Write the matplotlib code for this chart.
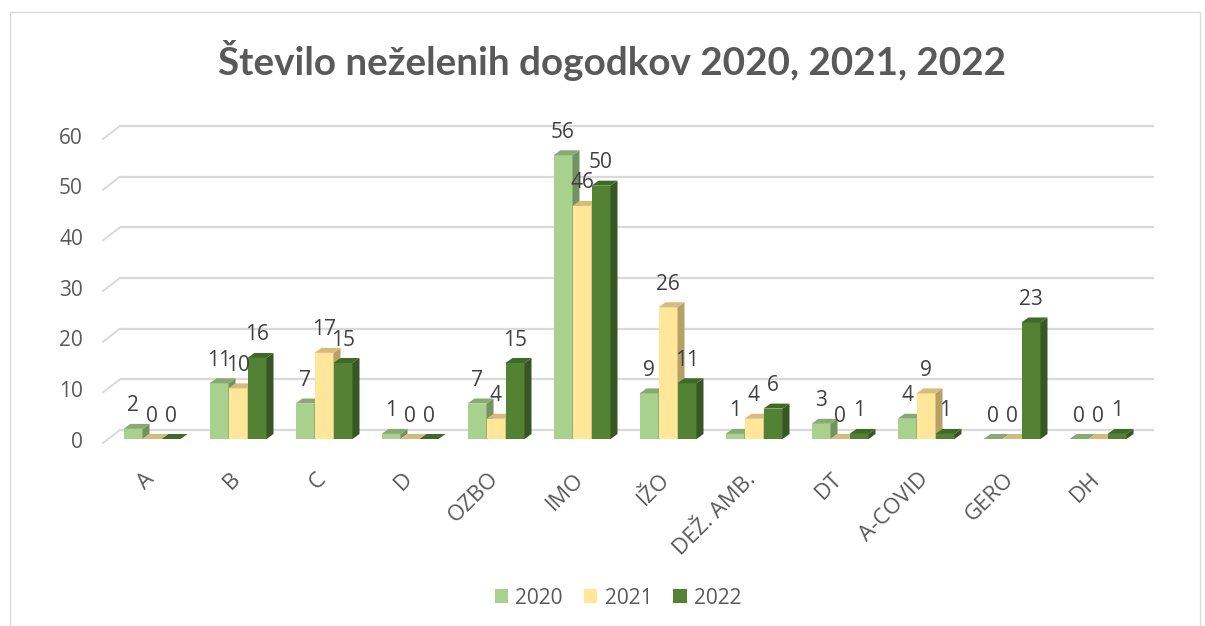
import matplotlib
matplotlib.use("Agg")
import matplotlib.pyplot as plt
from matplotlib.patches import Rectangle, Polygon, Patch

# ---------------- data ----------------
categories = ["A", "B", "C", "D", "OZBO", "IMO", "IŽO", "DEŽ. AMB.", "DT", "A-COVID", "GERO", "DH"]
years = ["2020", "2021", "2022"]
values_2020 = [2, 11, 7, 1, 7, 56, 9, 1, 3, 4, 0, 0]
values_2021 = [0, 10, 17, 0, 4, 46, 26, 4, 0, 9, 0, 0]
values_2022 = [0, 16, 15, 0, 15, 50, 11, 6, 1, 1, 23, 1]
y_ticks = [0, 10, 20, 30, 40, 50, 60]
title = "Število neželenih dogodkov 2020, 2021, 2022"

series = [values_2020, values_2021, values_2022]
front_cols = ["#A9D18E", "#FFE699", "#548235"]
top_cols = ["#88AA72", "#D6BC7C", "#3F6A26"]
side_cols = ["#74925F", "#B7A066", "#375623"]

plt.rcParams["font.family"] = ["Open Sans", "DejaVu Sans"]
TITLE_FONT = ["Lato", "DejaVu Sans"]
FS = 15
FS_CAT = 16

W, H = 1205, 626
fig = plt.figure(figsize=(W / 100, H / 100), dpi=100)
fig.patch.set_facecolor("white")

# chart border
fig.add_artist(Rectangle((10 / W, -0.05), 1190 / W, (H - 12) / H + 0.05,
                         transform=fig.transFigure, fill=False,
                         ec="#D9D9D9", lw=1.0))

# axes (bar plane)
x_left_px, x_right_px = 109, 1141
y0_px, y60_px = 439, 135
ax = fig.add_axes([x_left_px / W, (H - y0_px) / H,
                   (x_right_px - x_left_px) / W, (y0_px - y60_px) / H])
n = len(categories)
ax.set_xlim(-0.5, n - 0.5)
ax.set_ylim(0, 60)
ax.axis("off")

pxx = (x_right_px - x_left_px) / n      # px per x unit
pxy = (y0_px - y60_px) / 60.0           # px per y unit

def dx(p):
    return p / pxx

def dy(p):
    return p / pxy

# gridlines (back wall) + diagonal side-wall lines
grid_c = "#D9D9D9"
for v in y_ticks:
    ax.plot([-0.5 + dx(11), n - 0.5 + dx(13)], [v + dy(9), v + dy(9)],
            color=grid_c, lw=1.6, zorder=1, clip_on=False, solid_capstyle="butt")
    ax.plot([-0.5 - dx(6), -0.5 + dx(11)], [v - dy(4), v + dy(9)],
            color=grid_c, lw=1.4, zorder=1, clip_on=False)
    ax.text(-0.5 - dx(26), v - dy(3), str(v), ha="right", va="center",
            fontsize=FS, color="#595959")

# bars
bw = 19 / pxx
ddx, ddy = dx(7), dy(5)
z = 2
for i in range(n):
    for s in range(3):
        v = series[s][i]
        xc = i + (s - 1) * bw
        x0, x1 = xc - bw / 2, xc + bw / 2
        ax.add_patch(Rectangle((x0, 0), bw, v, fc=front_cols[s], ec="none",
                               zorder=z, clip_on=False))
        ax.add_patch(Polygon([(x1, 0), (x1 + ddx, ddy), (x1 + ddx, v + ddy), (x1, v)],
                             closed=True, fc=side_cols[s], ec="none", zorder=z,
                             clip_on=False))
        ax.add_patch(Polygon([(x0, v), (x1, v), (x1 + ddx, v + ddy), (x0 + ddx, v + ddy)],
                             closed=True, fc=top_cols[s], ec="none", zorder=z,
                             clip_on=False))
        z += 0.01
for i in range(n):
    for s in range(3):
        v = series[s][i]
        xc = i + (s - 1) * bw
        ax.text(xc, v + dy(23), str(v), ha="center", va="center", fontsize=FS,
                color="#404040", zorder=10)

# category labels
for i, c in enumerate(categories):
    ax.text(i - dx(1), -dy(37), c, rotation=45, rotation_mode="anchor",
            ha="right", va="center", fontsize=FS_CAT, color="#595959")

# title fitted to width
t = fig.text(612 / W, (H - 75) / H, title, ha="center", va="baseline",
             fontsize=24, fontweight="bold", color="#595959", family=TITLE_FONT)
fig.canvas.draw()
wpx = t.get_window_extent().width
t.set_fontsize(24 * 789 / wpx)

# legend
handles = [Patch(fc=front_cols[s], ec="none") for s in range(3)]
fig.legend(handles, years, loc="center", bbox_to_anchor=(618 / W, (H - 598) / H),
           ncol=3, frameon=False, fontsize=FS, labelcolor="#595959",
           handlelength=0.65, handleheight=0.65, handletextpad=0.35,
           columnspacing=1.0)

fig.savefig("out.png", dpi=100)
